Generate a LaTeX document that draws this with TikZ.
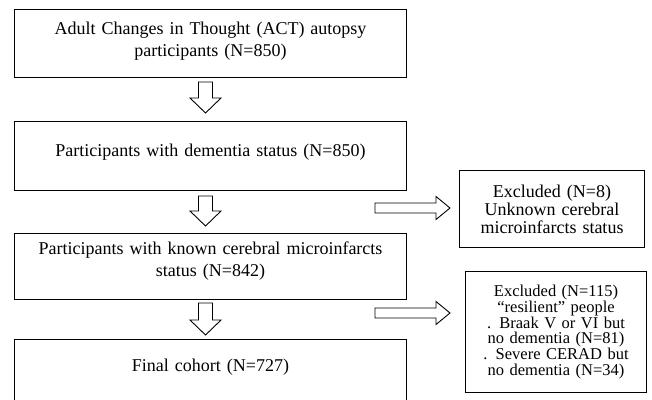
\documentclass[tikz,border=0pt]{standalone}
\usepackage{fontspec}
\setmainfont{Liberation Serif}
\newcommand{\mainsize}{\fontsize{18}{21.5}\selectfont}
\newcommand{\exsize}{\fontsize{18}{18}\selectfont}
\newcommand{\exsmall}{\fontsize{16.5}{15.8}\selectfont}
\tikzset{
    box/.style={draw, line width=1pt, anchor=north west, align=center,
        inner xsep=4pt, inner ysep=0pt, text width=384pt, font=\mainsize},
    exbox/.style={draw, line width=1pt, anchor=north west, align=center,
        inner xsep=4pt, inner ysep=0pt},
    hollow/.style={draw, fill=white, line width=0.9pt, line join=miter},
    pics/downarrow/.style={code={
        \draw[hollow] (-7,0) -- ++(0,#1) -- ++(-8.5,0) -- ++(15.5,15)
            -- ++(15.5,-15) -- ++(-8.5,0) -- ++(0,-#1) -- cycle;}},
    pics/rightarrow/.style={code={
        \draw[hollow] (0,-5) -- ++(61,0) -- ++(0,-6.5) -- ++(14,11.5)
            -- ++(-14,11.5) -- ++(0,-6.5) -- ++(-61,0) -- cycle;}}
}
\begin{document}
\begin{tikzpicture}[x=1pt, y=-1pt]
    \useasboundingbox (0,0) rectangle (652,399);
    \clip (0,0) rectangle (652,399);
    % main flow
    \node [box, text height=25pt, text depth=43pt] (act) at (14,9)
        {Adult Changes in Thought (ACT) autopsy\\participants (N=850)};
    \node [box, text height=35pt, text depth=34pt] (dem) at (14,121)
        {Participants with dementia status (N=850)};
    \node [box, text height=21pt, text depth=45pt] (known) at (14,233)
        {Participants with known cerebral microinfarcts\\status (N=842)};
    \node [box, text height=32pt, text depth=60pt] (final) at (14,339)
        {Final cohort (N=727)};
    % exclusions
    \node [exbox, text width=177pt, minimum height=77pt, font=\exsize] (exa) at (459,170)
        {Excluded (N=8)\\Unknown cerebral\\microinfarcts status};
    \node [exbox, text width=173pt, minimum height=121pt, font=\exsmall] (exb) at (465,271)
        {Excluded (N=115)\\``resilient'' people\\. Braak V or VI but\\no dementia (N=81)\\. Severe CERAD but\\no dementia (N=34)};
    % arrows
    \coordinate (d1) at (205.5,82);
    \coordinate (d2) at (205.5,196);
    \coordinate (d3) at (205.5,303);
    \coordinate (r1) at (375,208);
    \coordinate (r2) at (375,313);
    \pic at (d1) {downarrow=16};
    \pic at (d2) {downarrow=15};
    \pic at (d3) {downarrow=17};
    \pic at (r1) {rightarrow};
    \pic at (r2) {rightarrow};
\end{tikzpicture}
\end{document}
